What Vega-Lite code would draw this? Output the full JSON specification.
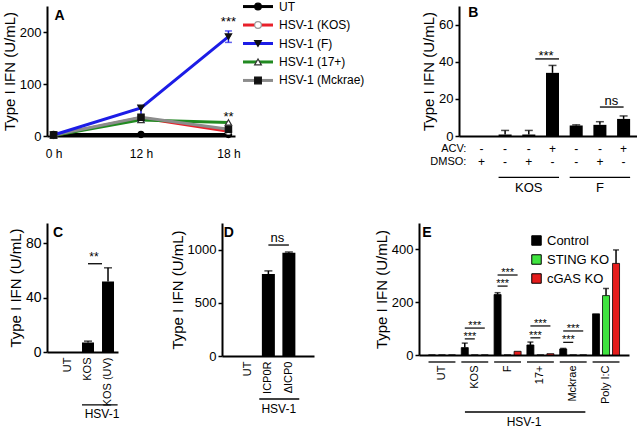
{
"$schema":"https://vega.github.io/schema/vega-lite/v6.json",
"background":"white",
"padding":{"left":2,"top":0,"right":0,"bottom":0},
"config":{
 "view":{"stroke":null},
 "font":"Liberation Sans",
 "axis":{"domainColor":"#000","domainWidth":2,"tickColor":"#000","tickWidth":1.5,"tickSize":4,"labelColor":"#000","titleColor":"#000","grid":false,"titleFontWeight":400,"titleFontSize":15,"labelFontSize":12,"titlePadding":2,"labelPadding":2,"labelFont":"Liberation Sans","titleFont":"Liberation Sans"},
 "text":{"font":"Liberation Sans","color":"#000"}
},
"spacing":28,
"resolve":{"scale":{"color":"independent","fill":"independent","stroke":"independent","shape":"independent","x":"independent","y":"independent"}},
"vconcat":[
 {"spacing":56,
  "resolve":{"scale":{"color":"independent","fill":"independent","stroke":"independent","shape":"independent","x":"independent","y":"independent"}},
  "hconcat":[
   {"spacing":0,
    "resolve":{"scale":{"color":"independent","fill":"independent","stroke":"independent","shape":"independent","x":"independent","y":"independent"}},
    "hconcat":[
     {"width":188,"height":130,
      "data":{"values":[
        {"s":"UT","t":"0 h","v":3},{"s":"UT","t":"12 h","v":3},{"s":"UT","t":"18 h","v":3},
        {"s":"KOS","t":"0 h","v":1},{"s":"KOS","t":"12 h","v":35},{"s":"KOS","t":"18 h","v":9},
        {"s":"17+","t":"0 h","v":1},{"s":"17+","t":"12 h","v":31},{"s":"17+","t":"18 h","v":26},
        {"s":"Mckrae","t":"0 h","v":2},{"s":"Mckrae","t":"12 h","v":36},{"s":"Mckrae","t":"18 h","v":13},
        {"s":"F","t":"0 h","v":2},{"s":"F","t":"12 h","v":54,"lo":27,"hi":58},{"s":"F","t":"18 h","v":191,"lo":180,"hi":202}
      ]},
      "layer":[
       {"mark":{"type":"line","strokeWidth":3},
        "encoding":{
         "x":{"field":"t","type":"ordinal","scale":{"type":"point","domain":["0 h","12 h","18 h"],"padding":0.075},"axis":{"title":null,"labelAngle":0,"ticks":false,"labelPadding":12,"labelFontSize":12}},
         "y":{"field":"v","type":"quantitative","scale":{"domain":[0,250],"nice":false},"axis":{"title":"Type I IFN (U/mL)","titleFontWeight":400,"values":[0,100,200],"labelFontSize":13}},
         "color":{"field":"s","type":"nominal","scale":{"domain":["UT","KOS","F","17+","Mckrae"],"range":["#000000","#e8202a","#1c1ce6","#218a21","#8c8c8c"]},"legend":null}
        }},
       {"transform":[{"filter":"isValid(datum.hi)"}],"mark":{"type":"rule","color":"#1c1ce6","strokeWidth":1.5},
        "encoding":{"x":{"field":"t","type":"ordinal"},"y":{"field":"lo","type":"quantitative"},"y2":{"field":"hi"}}},
       {"transform":[{"filter":"isValid(datum.hi)"}],"mark":{"type":"tick","color":"#1c1ce6","size":7,"thickness":1.5},
        "encoding":{"x":{"field":"t","type":"ordinal"},"y":{"field":"hi","type":"quantitative"}}},
       {"transform":[{"filter":"isValid(datum.hi)"}],"mark":{"type":"tick","color":"#1c1ce6","size":7,"thickness":1.5},
        "encoding":{"x":{"field":"t","type":"ordinal"},"y":{"field":"lo","type":"quantitative"}}},
       {"mark":{"type":"point","size":40,"strokeWidth":1.2,"filled":true,"opacity":1},
        "encoding":{
         "x":{"field":"t","type":"ordinal"},
         "y":{"field":"v","type":"quantitative"},
         "shape":{"field":"s","type":"nominal","scale":{"domain":["UT","KOS","F","17+","Mckrae"],"range":["circle","circle","triangle-down","triangle-up","square"]},"legend":null},
         "fill":{"field":"s","type":"nominal","scale":{"domain":["UT","KOS","F","17+","Mckrae"],"range":["#000000","#ffffff","#111111","#ffffff","#111111"]},"legend":null},
         "stroke":{"field":"s","type":"nominal","scale":{"domain":["UT","KOS","F","17+","Mckrae"],"range":["#000000","#999999","#111111","#333333","#111111"]},"legend":null}
        }},
       {"data":{"values":[{"t":"18 h","v":220,"txt":"***"},{"t":"18 h","v":36,"txt":"**"}]},
        "mark":{"type":"text","fontSize":13,"baseline":"middle"},
        "encoding":{"x":{"field":"t","type":"ordinal"},"y":{"field":"v","type":"quantitative"},"text":{"field":"txt"}}},
       {"data":{"values":[{"t":"0 h","v":230,"txt":"A"}]},
        "mark":{"type":"text","fontSize":14,"fontWeight":"bold","dx":6,"baseline":"middle"},
        "encoding":{"x":{"field":"t","type":"ordinal"},"y":{"field":"v","type":"quantitative"},"text":{"field":"txt"}}}
      ]},
     {"width":30,"height":75,
      "data":{"values":[{"s":"UT","lab":"UT"},{"s":"KOS","lab":"HSV-1 (KOS)"},{"s":"F","lab":"HSV-1 (F)"},{"s":"17+","lab":"HSV-1 (17+)"},{"s":"Mckrae","lab":"HSV-1 (Mckrae)"}]},
      "encoding":{"y":{"field":"s","type":"nominal","scale":{"type":"point","domain":["UT","KOS","F","17+","Mckrae"],"padding":0.03},"axis":null}},
      "layer":[
       {"mark":{"type":"rule","strokeWidth":3},
        "encoding":{"x":{"datum":0,"type":"quantitative","scale":{"domain":[0,1]},"axis":null},"x2":{"datum":1},
         "color":{"field":"s","type":"nominal","scale":{"domain":["UT","KOS","F","17+","Mckrae"],"range":["#000000","#e8202a","#1c1ce6","#218a21","#8c8c8c"]},"legend":null}}},
       {"mark":{"type":"point","size":45,"strokeWidth":1.2,"filled":true,"opacity":1},
        "encoding":{"x":{"datum":0.5,"type":"quantitative"},
         "shape":{"field":"s","type":"nominal","scale":{"domain":["UT","KOS","F","17+","Mckrae"],"range":["circle","circle","triangle-down","triangle-up","square"]},"legend":null},
         "fill":{"field":"s","type":"nominal","scale":{"domain":["UT","KOS","F","17+","Mckrae"],"range":["#000000","#ffffff","#111111","#ffffff","#111111"]},"legend":null},
         "stroke":{"field":"s","type":"nominal","scale":{"domain":["UT","KOS","F","17+","Mckrae"],"range":["#000000","#999999","#111111","#333333","#111111"]},"legend":null}}},
       {"mark":{"type":"text","align":"left","dx":6,"fontSize":12,"baseline":"middle"},
        "encoding":{"x":{"datum":1,"type":"quantitative"},"text":{"field":"lab"}}}
      ]}
    ]},
   {"width":187,"height":130,
    "data":{"values":[
      {"id":"b1","acv":"-","dmso":"+","v":0,"e":0},
      {"id":"b2","acv":"-","dmso":"-","v":0.8,"e":3},
      {"id":"b3","acv":"-","dmso":"+","v":0.8,"e":3},
      {"id":"b4","acv":"+","dmso":"-","v":34,"e":38},
      {"id":"b5","acv":"-","dmso":"-","v":5.6,"e":6},
      {"id":"b6","acv":"-","dmso":"+","v":6,"e":7.7},
      {"id":"b7","acv":"+","dmso":"-","v":9.2,"e":10.8}
    ]},
    "layer":[
     {"mark":{"type":"bar","color":"#000"},
      "encoding":{
       "x":{"field":"id","type":"nominal","scale":{"domain":["b1","b2","b3","b4","b5","b6","b7"],"paddingInner":0.45,"paddingOuter":0.67},"axis":{"title":null,"labels":false,"ticks":false}},
       "y":{"field":"v","type":"quantitative","scale":{"domain":[0,70],"nice":false},"axis":{"title":"Type I IFN (U/mL)","titleFontWeight":400,"values":[0,20,40,60],"labelFontSize":13}}
      }},
     {"transform":[{"filter":"datum.e > datum.v"}],"mark":{"type":"rule","color":"#000","strokeWidth":1.5},
      "encoding":{"x":{"field":"id","type":"nominal"},"y":{"field":"v","type":"quantitative"},"y2":{"field":"e"}}},
     {"transform":[{"filter":"datum.e > datum.v"}],"mark":{"type":"tick","color":"#000","size":8,"thickness":1.5},
      "encoding":{"x":{"field":"id","type":"nominal"},"y":{"field":"e","type":"quantitative"}}},
     {"mark":{"type":"text","fontSize":12,"baseline":"middle"},
      "encoding":{"x":{"field":"id","type":"nominal"},"y":{"datum":-7},"text":{"field":"acv"}}},
     {"mark":{"type":"text","fontSize":12,"baseline":"middle"},
      "encoding":{"x":{"field":"id","type":"nominal"},"y":{"datum":-14.2},"text":{"field":"dmso"}}},
     {"data":{"values":[{"id":"b1","txt":"ACV:","yy":-7},{"id":"b1","txt":"DMSO:","yy":-14.2}]},
      "mark":{"type":"text","align":"right","dx":-15,"fontSize":11,"baseline":"middle"},
      "encoding":{"x":{"field":"id","type":"nominal"},"y":{"field":"yy","type":"quantitative"},"text":{"field":"txt"}}},
     {"data":{"values":[{"a":"b2","b":"b4","m":"b3","txt":"KOS"},{"a":"b5","b":"b7","m":"b6","txt":"F"}]},
      "layer":[
       {"mark":{"type":"rule","color":"#000","strokeWidth":1.3},
        "encoding":{"x":{"field":"a","type":"nominal","bandPosition":0},"x2":{"field":"b","bandPosition":1},"y":{"datum":-22.3}}},
       {"mark":{"type":"text","fontSize":13,"baseline":"middle"},
        "encoding":{"x":{"field":"m","type":"nominal"},"y":{"datum":-27.8},"text":{"field":"txt"}}}
      ]},
     {"data":{"values":[{"a":"b3","b":"b4","y":41.5,"txt":"***"}]},
      "layer":[
       {"mark":{"type":"rule","color":"#000","strokeWidth":1.3},
        "encoding":{"x":{"field":"a","type":"nominal","bandPosition":1},"x2":{"field":"b","bandPosition":1},"y":{"field":"y","type":"quantitative"}}},
       {"mark":{"type":"text","fontSize":13,"baseline":"alphabetic","dy":1},
        "encoding":{"x":{"field":"b","type":"nominal","bandPosition":0},"y":{"field":"y","type":"quantitative"},"text":{"field":"txt"}}}
      ]},
     {"data":{"values":[{"a":"b6","b":"b7","y":15.6,"txt":"ns"}]},
      "layer":[
       {"mark":{"type":"rule","color":"#000","strokeWidth":1.3},
        "encoding":{"x":{"field":"a","type":"nominal","bandPosition":0.5},"x2":{"field":"b","bandPosition":0.5},"y":{"field":"y","type":"quantitative"}}},
       {"mark":{"type":"text","fontSize":13,"baseline":"alphabetic","dy":-2,"dx":5},
        "encoding":{"x":{"field":"a","type":"nominal","bandPosition":1},"y":{"field":"y","type":"quantitative"},"text":{"field":"txt"}}}
      ]},
     {"data":{"values":[{"id":"b1","v":66,"txt":"B"}]},
      "mark":{"type":"text","fontSize":14,"fontWeight":"bold","dx":-8,"baseline":"middle"},
      "encoding":{"x":{"field":"id","type":"nominal"},"y":{"field":"v","type":"quantitative"},"text":{"field":"txt"}}}
    ]}
  ]},
 {"spacing":60,
  "resolve":{"scale":{"color":"independent","fill":"independent","stroke":"independent","shape":"independent","x":"independent","y":"independent"}},
  "hconcat":[
   {"spacing":50,
    "resolve":{"scale":{"color":"independent","fill":"independent","stroke":"independent","shape":"independent","x":"independent","y":"independent"}},
    "hconcat":[
     {"width":71,"height":129,
      "data":{"values":[{"c":"UT","v":0,"e":0},{"c":"KOS","v":7,"e":8},{"c":"KOS (UV)","v":52,"e":62}]},
      "layer":[
       {"mark":{"type":"bar","color":"#000"},
        "encoding":{
         "x":{"field":"c","type":"nominal","scale":{"domain":["UT","KOS","KOS (UV)"],"paddingInner":0.4,"paddingOuter":0.475,"align":0.79},"axis":{"title":null,"labelAngle":-90,"ticks":false,"labelFontSize":11,"labelPadding":5}},
         "y":{"field":"v","type":"quantitative","scale":{"domain":[0,95],"nice":false},"axis":{"title":"Type I IFN (U/mL)","titleFontWeight":400,"values":[0,20,40,60,80],"labelFontSize":14}}
        }},
       {"transform":[{"filter":"datum.e > datum.v"}],"mark":{"type":"rule","color":"#000","strokeWidth":1.5},
        "encoding":{"x":{"field":"c","type":"nominal"},"y":{"field":"v","type":"quantitative"},"y2":{"field":"e"}}},
       {"transform":[{"filter":"datum.e > datum.v"}],"mark":{"type":"tick","color":"#000","size":8,"thickness":1.5},
        "encoding":{"x":{"field":"c","type":"nominal"},"y":{"field":"e","type":"quantitative"}}},
       {"data":{"values":[{"a":"KOS","b":"KOS (UV)","txt":"HSV-1"}]},
        "layer":[
         {"mark":{"type":"rule","color":"#000","strokeWidth":1.3},
          "encoding":{"x":{"field":"a","type":"nominal","bandPosition":0},"x2":{"field":"b","bandPosition":1.3},"y":{"datum":-39}}},
         {"mark":{"type":"text","fontSize":12,"baseline":"middle"},
          "encoding":{"x":{"field":"b","type":"nominal","bandPosition":0},"y":{"datum":-46},"text":{"field":"txt"}}}
        ]},
       {"data":{"values":[{"a":"KOS","b":"KOS (UV)","y":65,"txt":"**"}]},
        "layer":[
         {"mark":{"type":"rule","color":"#000","strokeWidth":1.3},
          "encoding":{"x":{"field":"a","type":"nominal","bandPosition":0.5},"x2":{"field":"b","bandPosition":0},"y":{"field":"y","type":"quantitative"}}},
         {"mark":{"type":"text","fontSize":12,"baseline":"alphabetic","dy":-3},
          "encoding":{"x":{"field":"a","type":"nominal","bandPosition":1},"y":{"field":"y","type":"quantitative"},"text":{"field":"txt"}}}
        ]},
       {"data":{"values":[{"c":"UT","v":88,"txt":"C"}]},
        "mark":{"type":"text","fontSize":14,"fontWeight":"bold","dx":-10,"baseline":"middle"},
        "encoding":{"x":{"field":"c","type":"nominal"},"y":{"field":"v","type":"quantitative"},"text":{"field":"txt"}}}
      ]},
     {"width":92,"height":133,
      "data":{"values":[{"c":"UT","v":0,"e":0},{"c":"ICP0R","v":770,"e":800},{"c":"ΔICP0","v":970,"e":978}]},
      "layer":[
       {"mark":{"type":"bar","color":"#000"},
        "encoding":{
         "x":{"field":"c","type":"nominal","scale":{"domain":["UT","ICP0R","ΔICP0"],"paddingInner":0.366,"paddingOuter":0.927,"align":0.51},"axis":{"title":null,"labelAngle":-90,"ticks":false,"labelFontSize":11,"labelPadding":5}},
         "y":{"field":"v","type":"quantitative","scale":{"domain":[0,1250],"nice":false},"axis":{"title":"Type I IFN (U/mL)","titleFontWeight":400,"values":[0,500,1000],"format":"d","labelFontSize":13}}
        }},
       {"transform":[{"filter":"datum.e > datum.v"}],"mark":{"type":"rule","color":"#000","strokeWidth":1.5},
        "encoding":{"x":{"field":"c","type":"nominal"},"y":{"field":"v","type":"quantitative"},"y2":{"field":"e"}}},
       {"transform":[{"filter":"datum.e > datum.v"}],"mark":{"type":"tick","color":"#000","size":8,"thickness":1.5},
        "encoding":{"x":{"field":"c","type":"nominal"},"y":{"field":"e","type":"quantitative"}}},
       {"data":{"values":[{"a":"ICP0R","b":"ΔICP0","txt":"HSV-1"}]},
        "layer":[
         {"mark":{"type":"rule","color":"#000","strokeWidth":1.3},
          "encoding":{"x":{"field":"a","type":"nominal","bandPosition":-0.2},"x2":{"field":"b","bandPosition":1.3},"y":{"datum":-404}}},
         {"mark":{"type":"text","fontSize":12,"baseline":"middle"},
          "encoding":{"x":{"field":"a","type":"nominal","bandPosition":1.3},"y":{"datum":-498},"text":{"field":"txt"}}}
        ]},
       {"data":{"values":[{"a":"ICP0R","b":"ΔICP0","y":1043,"txt":"ns"}]},
        "layer":[
         {"mark":{"type":"rule","color":"#000","strokeWidth":1.3},
          "encoding":{"x":{"field":"a","type":"nominal","bandPosition":0.5},"x2":{"field":"b","bandPosition":0.5},"y":{"field":"y","type":"quantitative"}}},
         {"mark":{"type":"text","fontSize":13,"baseline":"alphabetic","dy":-3},
          "encoding":{"x":{"field":"a","type":"nominal","bandPosition":1.2},"y":{"field":"y","type":"quantitative"},"text":{"field":"txt"}}}
        ]},
       {"data":{"values":[{"c":"UT","v":1156,"txt":"D"}]},
        "mark":{"type":"text","fontSize":14,"fontWeight":"bold","dx":-19,"baseline":"middle"},
        "encoding":{"x":{"field":"c","type":"nominal"},"y":{"field":"v","type":"quantitative"},"text":{"field":"txt"}}}
      ]}
    ]},
   {"width":210,"height":132,
    "data":{"values":[
      {"g":"UT","cond":"Control","v":0,"e":0},{"g":"UT","cond":"STING KO","v":0,"e":0},{"g":"UT","cond":"cGAS KO","v":0,"e":0},
      {"g":"KOS","cond":"Control","v":28,"e":45},{"g":"KOS","cond":"STING KO","v":0,"e":0},{"g":"KOS","cond":"cGAS KO","v":0,"e":0},
      {"g":"F","cond":"Control","v":229,"e":236},{"g":"F","cond":"STING KO","v":0,"e":0},{"g":"F","cond":"cGAS KO","v":14,"e":14},
      {"g":"17+","cond":"Control","v":38,"e":49},{"g":"17+","cond":"STING KO","v":0,"e":0},{"g":"17+","cond":"cGAS KO","v":5,"e":5},
      {"g":"Mckrae","cond":"Control","v":23,"e":25},{"g":"Mckrae","cond":"STING KO","v":0,"e":0},{"g":"Mckrae","cond":"cGAS KO","v":0,"e":0},
      {"g":"Poly I:C","cond":"Control","v":156,"e":156},{"g":"Poly I:C","cond":"STING KO","v":225,"e":252},{"g":"Poly I:C","cond":"cGAS KO","v":347,"e":398}
    ]},
    "layer":[
     {"mark":{"type":"bar","stroke":"#000","strokeWidth":0.8},
      "encoding":{
       "x":{"field":"g","type":"nominal","scale":{"domain":["UT","KOS","F","17+","Mckrae","Poly I:C"],"paddingInner":0,"paddingOuter":0.2},"axis":{"title":null,"labelAngle":-90,"ticks":false,"labelFontSize":11,"labelPadding":10}},
       "xOffset":{"field":"cond","type":"nominal","scale":{"domain":["Control","STING KO","cGAS KO"],"paddingInner":0.3,"paddingOuter":0.29}},
       "y":{"field":"v","type":"quantitative","scale":{"domain":[0,500],"nice":false},"axis":{"title":"Type I IFN (U/mL)","titleFontWeight":400,"values":[0,100,200,300,400],"labelFontSize":13}},
       "fill":{"field":"cond","type":"nominal","scale":{"domain":["Control","STING KO","cGAS KO"],"range":["#000000","#3fe43f","#e51c1c"]},
        "legend":{"title":null,"orient":"none","legendX":111,"legendY":11,"symbolType":"square","symbolSize":90,"symbolStrokeColor":"#000","symbolStrokeWidth":1,"labelFontSize":13,"rowPadding":4,"labelOffset":4,"padding":0}}
      }},
     {"transform":[{"filter":"datum.e > datum.v"}],"mark":{"type":"rule","color":"#000","strokeWidth":1.5},
      "encoding":{"x":{"field":"g","type":"nominal"},"xOffset":{"field":"cond","type":"nominal"},"y":{"field":"v","type":"quantitative"},"y2":{"field":"e"}}},
     {"transform":[{"filter":"datum.e > datum.v"}],"mark":{"type":"tick","color":"#000","size":6,"thickness":1.5},
      "encoding":{"x":{"field":"g","type":"nominal"},"xOffset":{"field":"cond","type":"nominal"},"y":{"field":"e","type":"quantitative"}}},
     {"data":{"values":[{"g":"UT"},{"g":"KOS"},{"g":"F"},{"g":"17+"},{"g":"Mckrae"},{"g":"Poly I:C"}]},
      "mark":{"type":"rule","color":"#000","strokeWidth":1.3},
      "encoding":{"x":{"field":"g","type":"nominal","bandPosition":0.09},"x2":{"field":"g","bandPosition":0.91},"y":{"datum":-26.5}}},
     {"data":{"values":[{"a":"KOS","b":"Mckrae","m":"F","txt":"HSV-1"}]},
      "layer":[
       {"mark":{"type":"rule","color":"#000","strokeWidth":1.3},
        "encoding":{"x":{"field":"a","type":"nominal","bandPosition":0.2},"x2":{"field":"b","bandPosition":0.87},"y":{"datum":-216}}},
       {"mark":{"type":"text","fontSize":12,"baseline":"middle"},
        "encoding":{"x":{"field":"m","type":"nominal","bandPosition":1},"y":{"datum":-254},"text":{"field":"txt"}}}
      ]},
     {"data":{"values":[{"g":"KOS","lo":61,"hi":102},{"g":"F","lo":261,"hi":303},{"g":"17+","lo":65,"hi":110},{"g":"Mckrae","lo":48,"hi":91}]},
      "layer":[
       {"mark":{"type":"rule","color":"#000","strokeWidth":1.2},
        "encoding":{"x":{"field":"g","type":"nominal","bandPosition":0.195},"x2":{"field":"g","bandPosition":0.5},"y":{"field":"lo","type":"quantitative"}}},
       {"mark":{"type":"rule","color":"#000","strokeWidth":1.2},
        "encoding":{"x":{"field":"g","type":"nominal","bandPosition":0.195},"x2":{"field":"g","bandPosition":0.805},"y":{"field":"hi","type":"quantitative"}}},
       {"mark":{"type":"text","fontSize":11,"baseline":"alphabetic","dy":1},
        "encoding":{"x":{"field":"g","type":"nominal","bandPosition":0.35},"y":{"field":"lo","type":"quantitative"},"text":{"value":"***"}}},
       {"mark":{"type":"text","fontSize":11,"baseline":"alphabetic","dy":1},
        "encoding":{"x":{"field":"g","type":"nominal","bandPosition":0.5},"y":{"field":"hi","type":"quantitative"},"text":{"value":"***"}}}
      ]},
     {"data":{"values":[{"g":"UT","v":462,"txt":"E"}]},
      "mark":{"type":"text","fontSize":14,"fontWeight":"bold","dx":-15,"baseline":"middle"},
      "encoding":{"x":{"field":"g","type":"nominal"},"y":{"field":"v","type":"quantitative"},"text":{"field":"txt"}}}
    ]}
  ]}
]
}
